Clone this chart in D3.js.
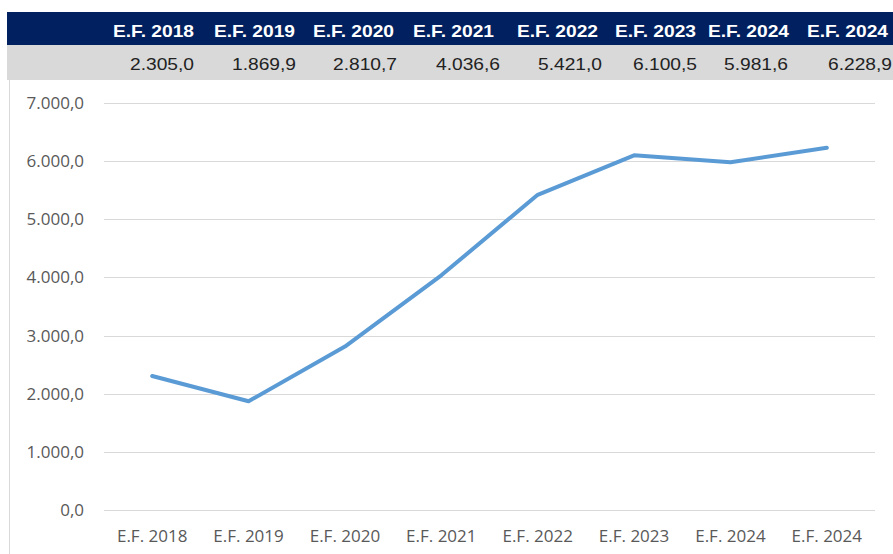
<!DOCTYPE html>
<html>
<head>
<meta charset="utf-8">
<script src="https://cdn.jsdelivr.net/npm/d3@7"></script>
<style>
  html, body { margin: 0; padding: 0; background: #fff; }
  svg { display: block; }
</style>
</head>
<body>
<svg id="chart" width="893" height="554"></svg>
<script>
// ---- data ----
const categories = ["E.F. 2018", "E.F. 2019", "E.F. 2020", "E.F. 2021", "E.F. 2022", "E.F. 2023", "E.F. 2024", "E.F. 2024"];
const values = [2305.0, 1869.9, 2810.7, 4036.6, 5421.0, 6100.5, 5981.6, 6228.9];
const yTicks = [0, 1000, 2000, 3000, 4000, 5000, 6000, 7000];

// ---- layout (table cell right edges) ----
const headerRight = [194, 295, 394, 494, 598, 696, 789, 888];
const valueRight = [194, 296, 397, 500, 602, 697, 788, 892];

const fmt = v => {
  const s = v.toFixed(1).split(".");
  const int = s[0].replace(/\B(?=(\d{3})+(?!\d))/g, ".");
  return int + "," + s[1];
};

const svg = d3.select("#chart");

// header band
svg.append("rect").attr("x", 7).attr("y", 12).attr("width", 886).attr("height", 33).attr("fill", "#002060");
svg.append("rect").attr("x", 7).attr("y", 45).attr("width", 886).attr("height", 35).attr("fill", "#d9d9d9");

svg.append("g").selectAll("text").data(categories).join("text")
  .attr("transform", (d, i) => `translate(${headerRight[i]},37) scale(1.2,1)`)
  .attr("text-anchor", "end")
  .attr("font-family", "Liberation Sans, Arial, sans-serif")
  .attr("font-weight", "bold")
  .attr("font-size", 16)
  .attr("fill", "#ffffff")
  .text(d => d);

svg.append("g").selectAll("text").data(values).join("text")
  .attr("transform", (d, i) => `translate(${valueRight[i]},70) scale(1.2,1)`)
  .attr("text-anchor", "end")
  .attr("font-family", "Liberation Sans, Arial, sans-serif")
  .attr("font-size", 16)
  .attr("fill", "#222")
  .text(d => fmt(d));

// left border
svg.append("line").attr("x1", 9.5).attr("x2", 9.5).attr("y1", 80).attr("y2", 554)
  .attr("stroke", "#d9d9d9").attr("stroke-width", 1);

// scales
const x = d3.scaleBand().domain(d3.range(categories.length)).range([104, 875]).padding(0);
const y = d3.scaleLinear().domain([0, 7000]).range([510, 103]);

// gridlines
svg.append("g").selectAll("line").data(yTicks).join("line")
  .attr("x1", 104).attr("x2", 875)
  .attr("y1", d => Math.round(y(d)) + 0.5).attr("y2", d => Math.round(y(d)) + 0.5)
  .attr("stroke", "#d9d9d9").attr("stroke-width", 1);

// y axis labels
svg.append("g").selectAll("text").data(yTicks).join("text")
  .attr("x", 84).attr("y", d => y(d) + 6)
  .attr("text-anchor", "end")
  .attr("font-family", "Open Sans, sans-serif")
  .attr("font-size", 17)
  .attr("fill", "#595959")
  .text(d => fmt(d));

// x axis labels
svg.append("g").selectAll("text").data(categories).join("text")
  .attr("x", (d, i) => x(i) + x.bandwidth() / 2)
  .attr("y", 542)
  .attr("text-anchor", "middle")
  .attr("font-family", "Open Sans, sans-serif")
  .attr("font-size", 17)
  .attr("fill", "#595959")
  .text(d => d);

// line
const line = d3.line()
  .x((d, i) => x(i) + x.bandwidth() / 2)
  .y(d => y(d));

svg.append("path").datum(values)
  .attr("d", line)
  .attr("fill", "none")
  .attr("stroke", "#5b9bd5")
  .attr("stroke-width", 4)
  .attr("stroke-linejoin", "round")
  .attr("stroke-linecap", "round");
</script>
</body>
</html>
